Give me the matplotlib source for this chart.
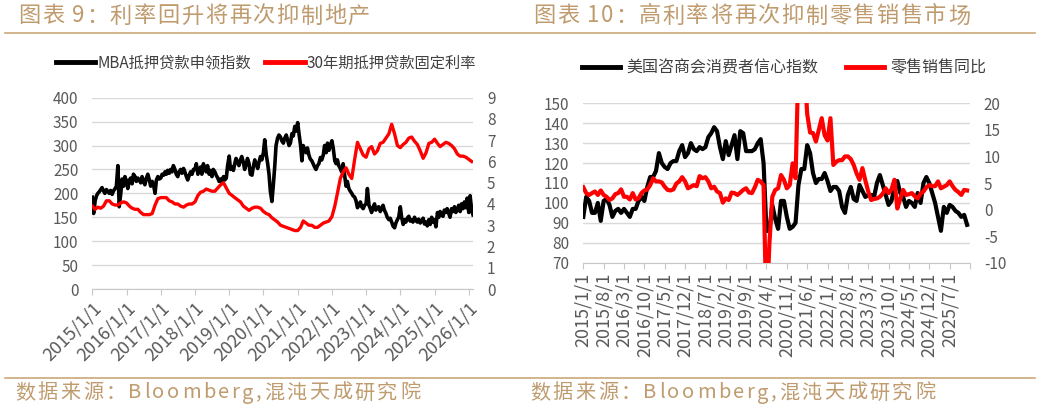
import numpy as np
import pandas as pd
import matplotlib
matplotlib.use('Agg')
import matplotlib.pyplot as plt
from matplotlib.lines import Line2D

plt.rcParams['font.family'] = ['Noto Sans CJK SC', 'DejaVu Sans']

# ---- chart 9 data: MBA index (semi-monthly) and 30y fixed rate (monthly)
mba_2015 = [192, 158, 185, 195, 200, 203, 208, 212, 205, 200, 208, 204, 200, 206, 198, 205, 210, 215, 258, 172, 200, 230, 215, 235]
mba_2016 = [225, 210, 228, 232, 220, 240, 235, 225, 232, 228, 222, 235, 225, 218, 232, 240, 228, 215, 225, 218, 200, 228, 235, 230]
mba_2017 = [232, 240, 238, 245, 240, 248, 242, 250, 245, 258, 250, 240, 235, 245, 250, 242, 252, 245, 235, 228, 238, 245, 240, 250]
mba_2018 = [250, 262, 240, 248, 255, 240, 262, 250, 245, 258, 240, 248, 235, 250, 245, 238, 232, 225, 230, 224, 235, 228, 232, 258]
mba_2019 = [278, 250, 255, 248, 262, 273, 265, 258, 270, 277, 265, 250, 260, 273, 262, 240, 238, 255, 270, 262, 252, 265, 277, 270]
mba_2020 = [285, 312, 280, 263, 240, 205, 183, 215, 256, 300, 316, 322, 318, 310, 305, 315, 322, 312, 300, 305, 325, 320, 340, 330]
mba_2021 = [348, 325, 300, 268, 300, 292, 285, 295, 280, 272, 268, 262, 255, 250, 258, 262, 275, 270, 280, 300, 285, 305, 290, 300]
mba_2022 = [310, 295, 268, 262, 270, 258, 252, 245, 262, 240, 215, 225, 210, 205, 200, 195, 192, 185, 170, 175, 182, 172, 168, 175]
mba_2023 = [178, 210, 175, 168, 160, 170, 178, 165, 170, 172, 162, 168, 175, 165, 158, 150, 145, 148, 140, 132, 128, 138, 145, 150]
mba_2024 = [172, 150, 135, 145, 140, 148, 152, 142, 145, 140, 150, 143, 140, 146, 138, 142, 148, 136, 140, 132, 145, 135, 150, 140]
mba_2025 = [145, 130, 160, 150, 162, 155, 152, 165, 160, 168, 158, 150, 168, 162, 172, 160, 165, 175, 162, 178, 168, 182, 170, 190]
mba_2026 = [160, 195, 165, 155]

rate_2015 = [3.9, 3.75, 3.85, 3.8, 3.9, 4.15, 4.15, 4.0, 3.95, 3.95, 4.05, 4.1]
rate_2016 = [4.05, 3.9, 3.8, 3.75, 3.75, 3.6, 3.5, 3.5, 3.5, 3.55, 3.95, 4.25]
rate_2017 = [4.3, 4.3, 4.3, 4.15, 4.1, 4.0, 4.0, 3.9, 3.85, 3.95, 4.0, 4.0]
rate_2018 = [4.1, 4.4, 4.55, 4.6, 4.7, 4.65, 4.6, 4.6, 4.75, 4.9, 5.0, 4.75]
rate_2019 = [4.5, 4.4, 4.3, 4.2, 4.1, 3.9, 3.8, 3.7, 3.8, 3.85, 3.85, 3.8]
rate_2020 = [3.65, 3.55, 3.5, 3.35, 3.25, 3.15, 3.0, 2.95, 2.9, 2.85, 2.8, 2.75]
rate_2021 = [2.75, 2.9, 3.2, 3.1, 3.0, 3.0, 2.9, 2.9, 3.0, 3.1, 3.15, 3.2]
rate_2022 = [3.4, 3.9, 4.5, 5.2, 5.5, 5.7, 5.4, 5.2, 6.1, 6.9, 6.6, 6.3]
rate_2023 = [6.2, 6.6, 6.7, 6.35, 6.5, 6.85, 6.9, 7.1, 7.3, 7.75, 7.3, 6.75]
rate_2024 = [6.65, 6.8, 6.9, 7.1, 7.15, 6.95, 6.8, 6.5, 6.15, 6.4, 6.85, 6.9]
rate_2025 = [7.05, 6.85, 6.7, 6.8, 6.9, 6.85, 6.75, 6.6, 6.35, 6.25, 6.25, 6.2]
rate_2026 = [6.1, 6.0]

mba = (mba_2015 + mba_2016 + mba_2017 + mba_2018 + mba_2019 + mba_2020 +
       mba_2021 + mba_2022 + mba_2023 + mba_2024 + mba_2025 + mba_2026)
rate = (rate_2015 + rate_2016 + rate_2017 + rate_2018 + rate_2019 + rate_2020 +
        rate_2021 + rate_2022 + rate_2023 + rate_2024 + rate_2025 + rate_2026)
mba_dates = pd.date_range('2015-01-01', periods=len(mba), freq='SMS')
rate_dates = pd.date_range('2015-01-01', periods=len(rate), freq='MS')
year_ticks = [pd.Timestamp(f'{y}-01-01') for y in range(2015, 2027)]
year_labels = [f'{y}/1/1' for y in range(2015, 2027)]

# ---- chart 10 data: Conference Board confidence and retail sales yoy (monthly, 2015/1..2026/1)
conf = [93, 103, 101, 95, 95, 100, 91, 101, 102, 99, 93, 96,
        97, 95, 97, 95, 93, 97, 97, 101, 103, 101, 108, 113,
        113, 116, 125, 120, 118, 117, 120, 121, 121, 126, 129, 123,
        125, 130, 127, 126, 128, 127, 128, 133, 135, 138, 136, 128,
        122, 131, 124, 129, 134, 122, 136, 135, 126, 126, 126, 127,
        130, 132, 120, 86, 86, 99, 92, 87, 101, 101, 93, 87,
        88, 90, 109, 117, 117, 129, 125, 115, 110, 112, 112, 115,
        111, 106, 108, 108, 106, 98, 95, 104, 108, 102, 101, 109,
        106, 103, 104, 104, 103, 110, 114, 109, 104, 99, 101, 108,
        111, 105, 103, 98, 101, 100, 98, 105, 100, 110, 113, 110,
        105, 100, 93, 86, 98, 95, 99, 98, 96, 95, 93, 94,
        89]
retail = [4.2, 3.1, 2.75, 3.1, 3.4, 2.75, 3.6, 2.75, 2.4, 1.8, 2.1, 2.9,
          3.1, 3.8, 2.4, 2.4, 1.9, 3.1, 1.9, 2.1, 3.1, 3.6, 3.8, 4.6,
          5.9, 5.3, 5.3, 5.1, 4.3, 3.7, 3.6, 3.8, 4.9, 5.3, 6.1, 5.3,
          4.0, 4.3, 4.6, 4.4, 6.3, 5.9, 6.1, 5.3, 4.0, 4.3, 3.4, 3.1,
          1.3, 2.1, 1.8, 3.2, 3.1, 2.75, 3.2, 3.7, 4.0, 3.2, 3.1, 4.2,
          5.6, 5.3, 4.6, -20, -6.5, 2.4, 3.7, 4.0, 6.5, 5.6, 4.0, 4.6,
          8.7, 5.9, 28, 52, 28, 18, 14.5, 14.4, 12.8, 15, 17.2, 14,
          13, 17.2, 8.4, 9.0, 9.3, 9.3, 10, 10, 9.5, 8.4, 6.8, 5.6,
          7.8, 5.5, 3.4, 1.8, 2.0, 2.1, 2.4, 3.0, 4.0, 3.1, 3.8, 5.6,
          0.2, 2.0, 3.7, 2.75, 2.9, 3.1, 2.5, 2.1, 3.0, 3.4, 4.2, 4.6,
          4.4, 4.4, 5.3, 4.0, 4.3, 4.6, 5.3, 4.4, 3.7, 3.3, 2.75, 3.7,
          3.6]
month_idx = np.arange(len(conf))
month_labels = [f'{2015 + i // 12}/{i % 12 + 1}/1' for i in range(0, len(conf), 7)]

gold = '#bf9b6e'
grey_txt = '#595959'
grid_c = '#d9d9d9'

W, H = 1041, 409
fig = plt.figure(figsize=(W / 100, H / 100), dpi=100)
renderer = fig.canvas.get_renderer()

def fx(px):
    return px / W

def fy(py):
    return 1 - py / H

def spaced_text(x0, x1, y, s, size):
    # lay the characters out one by one so the line fills x0..x1 like the source
    widths = []
    for ch in s:
        if ch == ' ':
            widths.append(size * 0.3)
            continue
        t = fig.text(0, 0, ch, fontsize=size)
        widths.append(t.get_window_extent(renderer).width)
        t.remove()
    gap = (x1 - x0 - sum(widths)) / (len(s) - 1)
    x = x0
    for ch, w in zip(s, widths):
        if ch != ' ':
            fig.text(fx(x), fy(y), ch, fontsize=size, color=gold, va='center', ha='left')
        x += w + gap

def style(ax, ax2):
    for s in ['top', 'left', 'right']:
        ax.spines[s].set_visible(False)
    for s in ['top', 'left', 'right', 'bottom']:
        ax2.spines[s].set_visible(False)
    ax.spines['bottom'].set_color('#c8c8c8')
    ax.grid(axis='y', color=grid_c, lw=1.0)
    ax.set_axisbelow(True)
    ax.tick_params(axis='y', length=0, pad=10, labelsize=11, labelcolor=grey_txt)
    ax2.tick_params(axis='y', length=0, pad=10, labelsize=11, labelcolor=grey_txt)
    ax.tick_params(axis='x', length=4, color='#c8c8c8', labelsize=13, labelcolor=grey_txt)

# ---- left chart
ax = fig.add_axes([fx(92.3), fy(289), fx(473) - fx(92.3), fy(97.7) - fy(289)])
ax2 = ax.twinx()
ax.plot(mba_dates, mba, color='black', lw=2.6, solid_joinstyle='round')
ax2.plot(rate_dates, rate, color='#ff0000', lw=2.4, solid_joinstyle='round')
ax.set_ylim(0, 400)
ax.set_yticks(range(0, 401, 50))
ax2.set_ylim(0, 9)
ax2.set_yticks(range(0, 10))
ax.set_xlim(mba_dates[0], mba_dates[-1])
ax.set_xticks(year_ticks)
ax.set_xticklabels(year_labels, rotation=45, ha='right', va='top', rotation_mode='anchor')
style(ax, ax2)

# ---- right chart
bx = fig.add_axes([fx(583.3), fy(262.7), fx(970) - fx(583.3), fy(103.3) - fy(262.7)])
bx2 = bx.twinx()
bx.plot(month_idx, conf, color='black', lw=3.0, solid_joinstyle='round')
bx2.plot(month_idx, retail, color='#ff0000', lw=3.0, solid_joinstyle='round')
bx.set_ylim(70, 150)
bx.set_yticks(range(70, 151, 10))
bx2.set_ylim(-10, 20)
bx2.set_yticks(range(-10, 21, 5))
bx2.set_yticklabels([f'{v}' if v >= 0 else f'-{abs(v)}' for v in range(-10, 21, 5)])
bx.set_xlim(0, len(conf))
bx.set_xticks(range(0, len(conf) + 1, 7))
bx.set_xticklabels(month_labels + [''], rotation=90, ha='center', va='top')
style(bx, bx2)

# ---- legends
h1 = [Line2D([], [], color='black', lw=3.5), Line2D([], [], color='#ff0000', lw=3.5)]
fig.legend(h1, ['MBA抵押贷款申领指数', '30年期抵押贷款固定利率'], loc='center',
           bbox_to_anchor=(fx(266), fy(63)), ncol=2, frameon=False, fontsize=11,
           handlelength=2.6, handletextpad=0.15, columnspacing=0.9, labelcolor='#404040')
fig.legend(h1, ['美国咨商会消费者信心指数', '零售销售同比'], loc='center',
           bbox_to_anchor=(fx(784), fy(68)), ncol=2, frameon=False, fontsize=11.5,
           handlelength=2.4, handletextpad=0.4, columnspacing=1.7, labelcolor='#404040')

# ---- titles, rules and sources
spaced_text(18, 370, 16, '图表 9：利率回升将再次抑制地产', 16)
spaced_text(533, 970, 16, '图表 10：高利率将再次抑制零售销售市场', 16)
fig.add_artist(Line2D([fx(5), fx(1035)], [fy(33), fy(33)], color='#c9a878', lw=1.2))
fig.add_artist(Line2D([fx(5), fx(1035)], [fy(378), fy(378)], color='#c9a878', lw=1.2))
spaced_text(15, 420, 393, '数据来源：Bloomberg,混沌天成研究院', 14.5)
spaced_text(530, 935, 393, '数据来源：Bloomberg,混沌天成研究院', 14.5)

fig.savefig('out.png', dpi=100)
